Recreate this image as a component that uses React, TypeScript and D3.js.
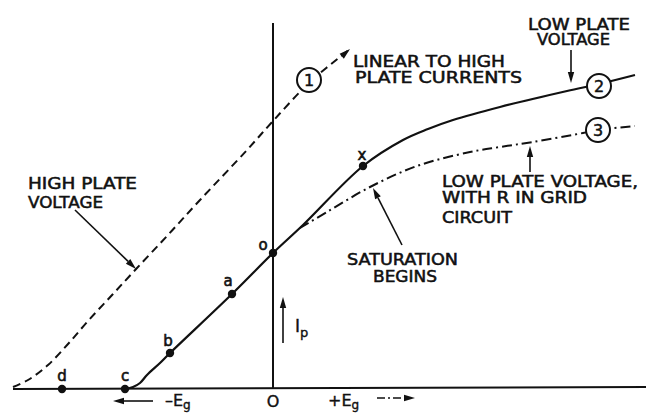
import React from "react";
import * as d3 from "d3";

// ---- data (grid voltage Eg, plate current Ip, arbitrary units) ----
const curve1HighPlate = [
  [-26, 0.2], [-24.5, 0.9], [-22.5, 2.4], [-20.5, 4.5], [-18.5, 6.8], [-16, 9.5],
  [-13.6, 12.1], [-10.6, 15.3], [-7.3, 18.9], [-2.6, 23.9], [0, 26.8], [3.7, 30.7], [7.7, 34.0],
];
const curve2LowPlate = [
  [-14.8, 0], [-14, 0.2], [-13.3, 0.6], [-12.6, 1.4], [-11.3, 2.6], [-10.3, 3.6],
  [-4.1, 9.5], [0, 13.6], [3, 16.4], [9, 22.3], [13, 24.9], [15.5, 26.0],
  [18, 26.9], [22.7, 28.2], [29.4, 29.8], [32.6, 30.5], [36.2, 31.4],
];
const curve3GridR = [
  [2.7, 16.1], [5.4, 17.7], [9.7, 20.2], [14.4, 22.3], [19.7, 23.7], [22.7, 24.2],
  [26, 24.7], [31, 25.6], [32.5, 25.9], [36.2, 26.3],
];
const pointNames = ["d", "c", "b", "a", "o", "x"];
const pointEg = [-21.1, -14.8, -10.3, -4.1, 0, 9.0];
const pointIp = [0, 0, 3.6, 9.5, 13.6, 22.3];
const curveNumbers = ["1", "2", "3"];
const curveNumberEg = [3.6, 32.6, 32.5];
const curveNumberIp = [30.9, 30.3, 25.9];

const xScale = d3.scaleLinear().domain([-26, 36.3]).range([13, 636]);
const yScale = d3.scaleLinear().domain([0, 36.6]).range([389, 23]);

// annotation layout (in data units)
const labelOffsets: Record<string, [number, number]> = {
  d: [0, -8], c: [0, -8], b: [-2, -7], a: [-4, -8], o: [-10, -3], x: [-1, -6],
};
const texts = [
  { t: "HIGH PLATE", x: -24.5, y: 20.0, w: 109 },
  { t: "VOLTAGE", x: -24.5, y: 18.1, w: 75 },
  { t: "LINEAR TO HIGH", x: 8.0, y: 32.2, w: 152 },
  { t: "PLATE CURRENTS", x: 8.2, y: 30.6, w: 167 },
  { t: "LOW PLATE", x: 25.5, y: 35.9, w: 102 },
  { t: "VOLTAGE", x: 26.4, y: 34.4, w: 73 },
  { t: "LOW PLATE VOLTAGE,", x: 16.9, y: 20.2, w: 196 },
  { t: "WITH R IN GRID", x: 16.9, y: 18.6, w: 145 },
  { t: "CIRCUIT", x: 16.9, y: 16.6, w: 70 },
  { t: "SATURATION", x: 7.4, y: 12.4, w: 111 },
  { t: "BEGINS", x: 10.0, y: 10.7, w: 64 },
];
const arrows = [
  { from: [-19.8, 17.9], to: [-13.7, 12.0], dash: "" },
  { from: [29.8, 33.9], to: [29.8, 30.6], dash: "" },
  { from: [25.7, 21.7], to: [25.7, 24.3], dash: "" },
  { from: [12.9, 14.4], to: [10.0, 20.1], dash: "" },
  { from: [1.0, 4.6], to: [1.0, 9.2], dash: "" },
  { from: [-12, -1.2], to: [-16, -1.2], dash: "" },
  { from: [10.4, -0.9], to: [14.2, -0.9], dash: "8 3 2 3" },
  { from: [6.9, 33.3], to: [7.7, 34.0], dash: "" },
];

const FONT = "'DejaVu Sans', sans-serif";

function Arrow({ from, to, dash }: { from: number[]; to: number[]; dash: string }) {
  const x1 = xScale(from[0]), y1 = yScale(from[1]);
  const x2 = xScale(to[0]), y2 = yScale(to[1]);
  const ang = Math.atan2(y2 - y1, x2 - x1);
  const L = 11, W = 3.2;
  const bx = x2 - L * Math.cos(ang), by = y2 - L * Math.sin(ang);
  const p1 = [bx + W * Math.sin(ang), by - W * Math.cos(ang)];
  const p2 = [bx - W * Math.sin(ang), by + W * Math.cos(ang)];
  return (
    <g>
      <line x1={x1} y1={y1} x2={bx} y2={by} stroke="#111" strokeWidth={1.6} strokeDasharray={dash || undefined} />
      <path d={`M${x2},${y2}L${p1[0]},${p1[1]}L${p2[0]},${p2[1]}Z`} fill="#111" />
    </g>
  );
}

export default function App() {
  const line = d3
    .line<number[]>()
    .x((d) => xScale(d[0]))
    .y((d) => yScale(d[1]))
    .curve(d3.curveCatmullRom.alpha(0.5));

  const x0 = xScale(0), y0 = yScale(0);
  const txt = { fontFamily: FONT, stroke: "#111", fill: "#111" };
  return (
    <svg width={646} height={413} style={{ position: "absolute", left: 0, top: 0, background: "#fff" }}>
      {/* axes */}
      <line x1={xScale(-26)} y1={y0} x2={646} y2={y0 - 2} stroke="#111" strokeWidth={2} />
      <line x1={x0} y1={y0} x2={x0} y2={yScale(36.6)} stroke="#111" strokeWidth={2} />

      {/* curves */}
      <path d={line(curve1HighPlate) || ""} fill="none" stroke="#111" strokeWidth={2} strokeDasharray="8 5" />
      <path d={line(curve2LowPlate) || ""} fill="none" stroke="#111" strokeWidth={2.2} />
      <path d={line(curve3GridR) || ""} fill="none" stroke="#111" strokeWidth={2} strokeDasharray="10 4 2 4" />

      {/* arrows */}
      {arrows.map((a, i) => (
        <Arrow key={i} from={a.from} to={a.to} dash={a.dash} />
      ))}

      {/* curve numbers */}
      {curveNumbers.map((n, i) => (
        <g key={n}>
          <circle cx={xScale(curveNumberEg[i])} cy={yScale(curveNumberIp[i])} r={12} fill="#fff" stroke="#111" strokeWidth={2} />
          <text x={xScale(curveNumberEg[i])} y={yScale(curveNumberIp[i]) + 6} textAnchor="middle" fontSize={16} strokeWidth={0.5} {...txt}>
            {n}
          </text>
        </g>
      ))}

      {/* points */}
      {pointNames.map((n, i) => {
        const px = xScale(pointEg[i]), py = yScale(pointIp[i]);
        const off = labelOffsets[n];
        return (
          <g key={n}>
            <circle cx={px} cy={py} r={4.2} fill="#111" />
            <text x={px + off[0]} y={py + off[1]} textAnchor="middle" fontSize={15} strokeWidth={0.6} {...txt}>
              {n}
            </text>
          </g>
        );
      })}

      {/* labels */}
      {texts.map((t, i) => (
        <text key={i} x={xScale(t.x)} y={yScale(t.y)} fontSize={16} textLength={t.w} lengthAdjust="spacingAndGlyphs" strokeWidth={0.55} {...txt}>
          {t.t}
        </text>
      ))}

      {/* axis labels */}
      <text x={x0} y={yScale(-1.8)} textAnchor="middle" fontSize={16} strokeWidth={0.4} {...txt}>O</text>
      <text x={xScale(-10.8)} y={yScale(-1.7)} fontSize={16} strokeWidth={0.4} {...txt}>
        –E<tspan fontSize={12} dy={3}>g</tspan>
      </text>
      <text x={xScale(5.5)} y={yScale(-1.7)} fontSize={16} strokeWidth={0.4} {...txt}>
        +E<tspan fontSize={12} dy={3}>g</tspan>
      </text>
      <text x={xScale(2.2)} y={yScale(5.7)} fontSize={17} strokeWidth={0.4} {...txt}>
        I<tspan fontSize={13} dy={5}>p</tspan>
      </text>
    </svg>
  );
}
